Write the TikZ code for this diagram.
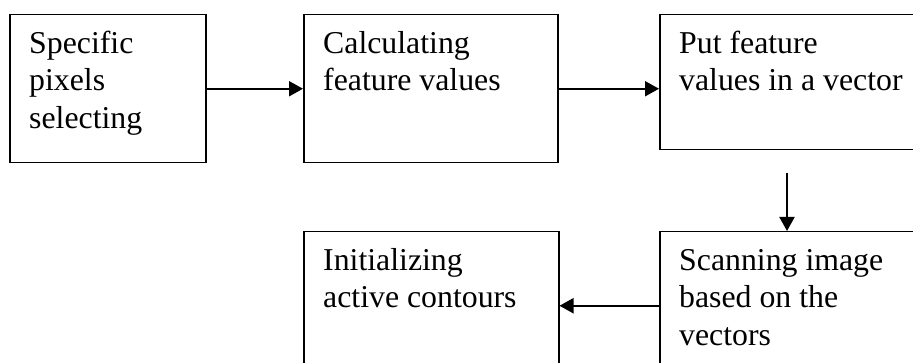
\documentclass[tikz,border=0pt]{standalone}
\usepackage{fontspec}
\setmainfont{Liberation Serif}
\usetikzlibrary{arrows.meta}
\tikzset{
  stepbox/.style={draw, line width=1.5pt, rectangle, inner sep=0pt, anchor=north west},
  steptext/.style={anchor=north west, inner sep=0pt, align=left,
    font=\fontsize{31.8}{37.5}\selectfont},
  flow/.style={line width=2pt, -{Triangle[length=14pt,width=15pt]}}
}
\newcommand{\firstline}{\rule{0pt}{25pt}}
\begin{document}
\begin{tikzpicture}[x=1pt,y=-1pt]
  \useasboundingbox (0,0) rectangle (913,363);
  \clip (0,0) rectangle (913,363);
  % boxes
  \node[stepbox, minimum width=196pt, minimum height=148pt] (b1) at (9,14) {};
  \node[stepbox, minimum width=254pt, minimum height=148pt] (b2) at (303,14) {};
  \node[stepbox, minimum width=300pt, minimum height=135pt] (b3) at (659,14) {};
  \node[stepbox, minimum width=255pt, minimum height=148pt] (b4) at (303,231) {};
  \node[stepbox, minimum width=300pt, minimum height=148pt] (b5) at (659,231) {};
  % labels
  \node[steptext] (t1) at ([shift={(20,14)}]b1.north west) {\firstline Specific\\pixels\\selecting};
  \node[steptext] (t2) at ([shift={(20,14)}]b2.north west) {\firstline Calculating\\feature values};
  \node[steptext] (t3) at ([shift={(20,14)}]b3.north west) {\firstline Put feature\\values in a vector};
  \node[steptext] (t4) at ([shift={(20,14)}]b4.north west) {\firstline Initializing\\active contours};
  \node[steptext] (t5) at ([shift={(20,14)}]b5.north west) {\firstline Scanning image\\based on the\\vectors};
  % connectors
  \coordinate (d) at (787,173);
  \draw[flow] (b1.east) -- (b2.west);
  \draw[flow] (b2.east) -- (b2.east -| b3.west);
  \draw[flow] (d) -- (d |- b5.north);
  \draw[flow] (b5.west) -- (b4.east);
\end{tikzpicture}
\end{document}
